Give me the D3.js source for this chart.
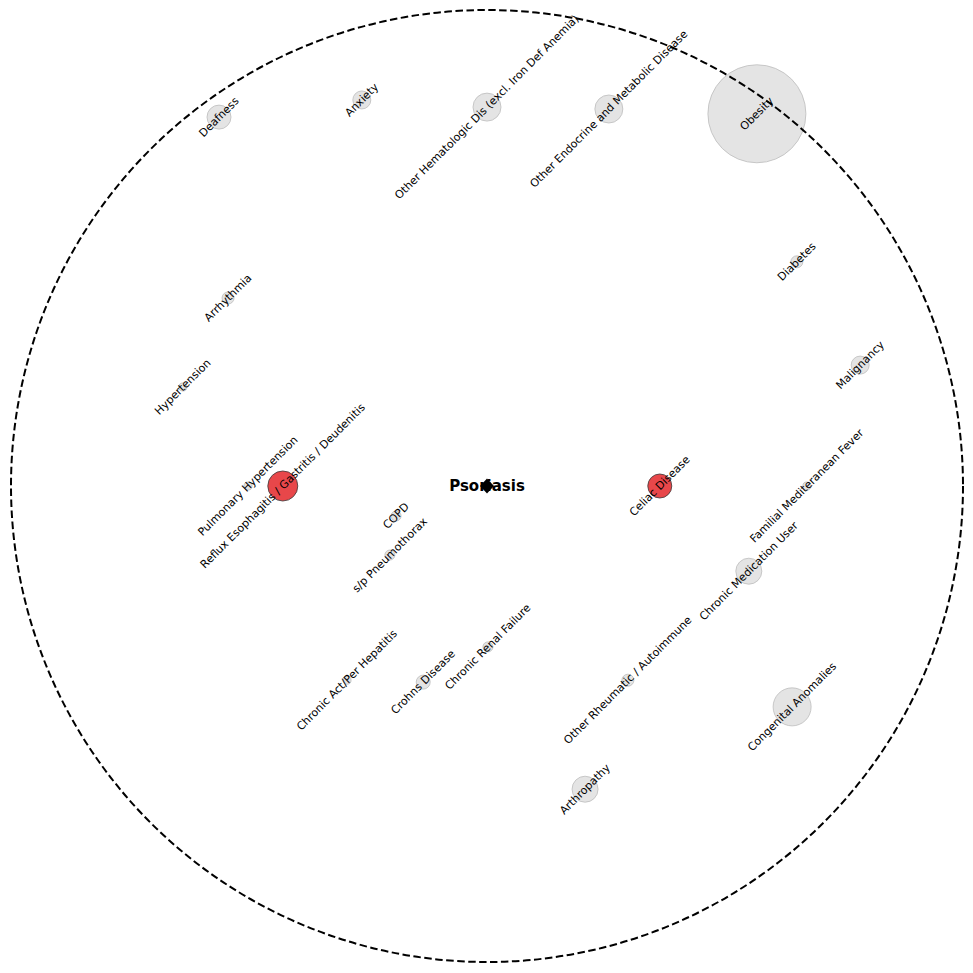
<!DOCTYPE html>
<html>
<head>
<meta charset="utf-8">
<script src="https://cdn.jsdelivr.net/npm/d3@7"></script>
<style>
html,body{margin:0;padding:0;background:#fff;}
svg{display:block;}
</style>
</head>
<body>
<svg id="chart" width="973" height="973"></svg>
<script>
const centerName = "Psoriasis";
const names = [
  "Obesity",
  "Other Endocrine and Metabolic Disease",
  "Other Hematologic Dis (excl. Iron Def Anemia)",
  "Anxiety",
  "Deafness",
  "Arrhythmia",
  "Hypertension",
  "Pulmonary Hypertension",
  "Reflux Esophagitis / Gastritis / Deudenitis",
  "COPD",
  "s/p Pneumothorax",
  "Celiac Disease",
  "Diabetes",
  "Malignancy",
  "Familial Mediteranean Fever",
  "Chronic Medication User",
  "Congenital Anomalies",
  "Other Rheumatic / Autoimmune",
  "Arthropathy",
  "Chronic Act/Per Hepatitis",
  "Crohns Disease",
  "Chronic Renal Failure"
];
const xs = [0.567, 0.256, 0.000, -0.263, -0.563, -0.544, -0.639, -0.502, -0.429, -0.191, -0.204,
            0.363, 0.651, 0.784, 0.672, 0.550, 0.641, 0.296, 0.206, -0.294, -0.134, 0.002];
const ys = [0.782, 0.792, 0.796, 0.811, 0.775, 0.395, 0.208, 0.000, 0.000, -0.063, -0.145,
            0.000, 0.471, 0.254, 0.000, -0.179, -0.464, -0.408, -0.637, -0.408, -0.412, -0.338];
const sizes = [2400, 196, 196, 81, 144, 36, 16, 16, 225, 25, 25,
               144, 36, 81, 16, 169, 361, 36, 169, 16, 49, 25];
const significant = [false, false, false, false, false, false, false, false, true, false, false,
                     true, false, false, false, false, false, false, false, false, false, false];

const W = 973, H = 973;
const svg = d3.select("#chart");
svg.append("rect").attr("width", W).attr("height", H).attr("fill", "#fff");

const x = d3.scaleLinear().domain([-1, 1]).range([11, 963]);
const y = d3.scaleLinear().domain([-1, 1]).range([962, 10]);
const r = d3.scaleSqrt().domain([0, 2400]).range([0, 49]);

const nodes = names.map((n, i) => ({name: n, x: xs[i], y: ys[i], size: sizes[i], sig: significant[i]}));

svg.append("g").selectAll("circle").data(nodes).join("circle")
  .attr("cx", d => x(d.x)).attr("cy", d => y(d.y)).attr("r", d => r(d.size))
  .attr("fill", d => d.sig ? "#e8474a" : "#e4e4e4")
  .attr("stroke", d => d.sig ? "#3a3a3a" : "#bdbdbd")
  .attr("stroke-width", 0.8);

// dashed boundary circle
svg.append("circle")
  .attr("cx", x(0)).attr("cy", y(0)).attr("r", x(1) - x(0))
  .attr("fill", "none").attr("stroke", "#000").attr("stroke-width", 2)
  .attr("stroke-dasharray", "7.5,3.5");

svg.append("g").selectAll("text").data(nodes).join("text")
  .attr("transform", d => `translate(${x(d.x)},${y(d.y)}) rotate(-45)`)
  .attr("text-anchor", "middle").attr("dominant-baseline", "central")
  .attr("font-family", "DejaVu Sans, sans-serif").attr("font-size", 11)
  .attr("fill", "#000")
  .text(d => d.name);

// center
svg.append("text")
  .attr("x", x(0)).attr("y", y(0))
  .attr("text-anchor", "middle").attr("dominant-baseline", "central")
  .attr("font-family", "DejaVu Sans, sans-serif").attr("font-size", 15).attr("font-weight", "bold")
  .text(centerName);
svg.append("path")
  .attr("d", "M0,-7.5L7,0L0,7.5L-7,0Z")
  .attr("transform", `translate(${x(0)},${y(0)})`)
  .attr("fill", "#000");
</script>
</body>
</html>
